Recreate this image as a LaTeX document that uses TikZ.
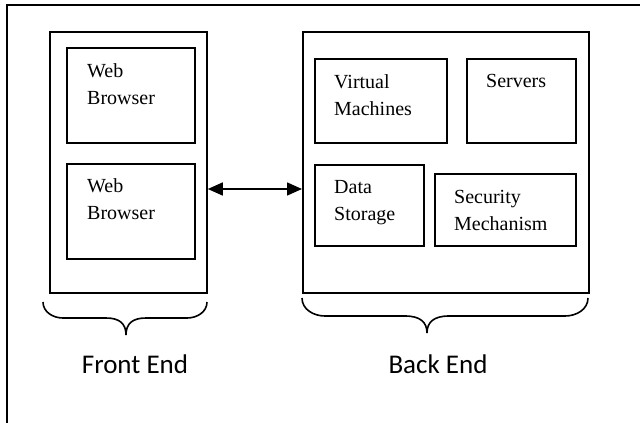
\documentclass[tikz,border=0pt]{standalone}
\usepackage{fontspec}
\setmainfont{Liberation Serif}
\newfontfamily\labelfont{Carlito}
\usetikzlibrary{arrows.meta}
\tikzset{
  box/.style={draw=black, line width=1.8pt, inner sep=0pt, anchor=north west},
  txt/.style={font=\fontsize{20}{27}\selectfont, align=left, inner sep=0pt, anchor=base west},
  endlabel/.style={font=\labelfont\fontsize{27}{32}\selectfont, inner sep=0pt, anchor=base},
  brace/.style={draw=black, line width=1.6pt},
  link/.style={draw=black, line width=1.6pt, {Triangle[length=15pt,width=13pt]}-{Triangle[length=15pt,width=13pt]}}
}
\begin{document}
\begin{tikzpicture}[x=1pt,y=-1pt]
\useasboundingbox (0,0) rectangle (640,423);
\fill[white] (0,0) rectangle (640,423);
% outer frame
\draw[line width=1.8pt] (7,423) -- (7,5) -- (640,5);
% front end
\node[box, minimum width=157pt, minimum height=261pt] (front) at (49,31) {};
\node[box, minimum width=128pt, minimum height=95pt] (wb1) at (66,47) {};
\node[box, minimum width=128pt, minimum height=95pt] (wb2) at (66,163) {};
\node[txt] (wb1t) at (87,104) {Web\\Browser};
\node[txt] (wb2t) at (87,219) {Web\\Browser};
% back end
\node[box, minimum width=286pt, minimum height=261pt] (back) at (302,31) {};
\node[box, minimum width=132pt, minimum height=84pt] (vm) at (314,58) {};
\node[box, minimum width=109pt, minimum height=84pt] (srv) at (466,58) {};
\node[box, minimum width=109pt, minimum height=81pt] (ds) at (314,164) {};
\node[box, minimum width=141pt, minimum height=72pt] (sec) at (434,173) {};
\node[txt] (vmt) at (334,115) {Virtual\\Machines};
\node[txt] (srvt) at (486,87) {Servers};
\node[txt] (dst) at (334,220) {Data\\Storage};
\node[txt] (sect) at (454,230) {Security\\Mechanism};
% arrow
\draw[link] (front.east |- 0,189) -- (back.west |- 0,189);
% braces
\draw[brace] (43,302) to[out=-90,in=180] (63,318) -- (106,318)
  .. controls (120,318) and (126,324) .. (126,335)
  .. controls (126,324) and (132,318) .. (146,318) -- (187,318)
  to[out=0,in=-90] (207,302);
\draw[brace] (302,298) to[out=-90,in=180] (325,316) -- (405,316)
  .. controls (420,316) and (427,322) .. (427,333)
  .. controls (427,322) and (434,316) .. (449,316) -- (565,316)
  to[out=0,in=-90] (588,298);
\node[endlabel] (fe) at (135,373) {Front End};
\node[endlabel] (be) at (438,373) {Back End};
\end{tikzpicture}
\end{document}
